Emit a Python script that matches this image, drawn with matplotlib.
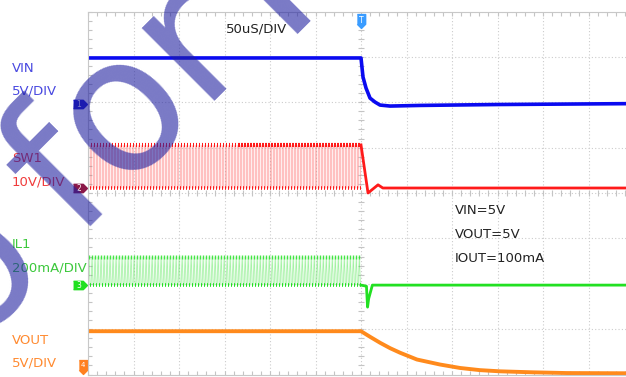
import numpy as np
import matplotlib.pyplot as plt

# scope settings: 50us/div, 12 x 8 divisions, trigger at t = 0
t_min, t_max = -300, 300
vin_scale, sw_scale, il_scale, vout_scale = 5.0, 10.0, 200.0, 5.0
vin_pos, sw_pos, il_pos, vout_pos = 1.96, 0.11, -2.03, -4.04

# VIN (V)
vin_t = [-300, 0, 2.2, 5.5, 9.9, 15.4, 20.9, 32, 65, 150, 300]
vin_v = [5.08, 5.08, 2.98, 1.77, 0.66, 0.22, -0.11, -0.22, -0.15, -0.05, 0.05]

# SW1 (V): switching before the trigger, then collapse
sw_period = 3.3
sw_high, sw_low = 9.5, 0.0
sw_stop_t = [0, 7.7, 18.7, 24, 300]
sw_stop_v = [9.5, -1.1, 0.7, 0.0, 0.0]

# IL1 (mA)
il_peak = 124
il_stop_t = [0, 6.0, 7.2, 8.4, 12.5, 300]
il_stop_v = [0, -5, -97, -60, 0, 0]

# VOUT (V)
vout_t = [-300, 0, 10, 20.9, 32, 42.9, 61.5, 86.8, 108.8, 130.8, 152.7, 189, 226, 300]
vout_v = [4.97, 4.97, 4.35, 3.7, 3.1, 2.6, 1.85, 1.3, 0.92, 0.68, 0.55, 0.44, 0.36, 0.33]

c_vin, c_sw, c_il, c_vout = '#0a0af0', '#ff1a1a', '#22e022', '#ff8a1c'


def to_div(v, scale, pos):
    return np.asarray(v, dtype=float) / scale + pos


fig = plt.figure(figsize=(6.26, 3.77), dpi=100)
ax = fig.add_axes([88 / 626, 1 - 374.5 / 377, 546 / 626, 363 / 377])
ax.set_xlim(t_min, t_max)
ax.set_ylim(-4, 4)

# graticule
ax.set_xticks(np.arange(t_min, t_max + 1, 50))
ax.set_yticks(np.arange(-4, 5, 1))
ax.set_xticks(np.arange(t_min, t_max + 1, 10), minor=True)
ax.set_yticks(np.arange(-4, 4.01, 0.2), minor=True)
ax.tick_params(which='both', direction='in', top=True, right=True,
               labelbottom=False, labelleft=False, color='#c4c4c4', length=3, width=0.8)
ax.grid(True, which='major', ls=(0, (1, 2)), color='#cccccc', lw=0.8)
for s in ax.spines.values():
    s.set_color('#c8c8c8')
    s.set_linewidth(0.8)
ax.vlines(np.arange(t_min, t_max + 1, 10), -0.07, 0.07, color='#c4c4c4', lw=0.8)
ax.hlines(np.arange(-4, 4.01, 0.2), -3.3, 3.3, color='#c4c4c4', lw=0.8)

# VIN
ax.plot(vin_t, to_div(vin_v, vin_scale, vin_pos), color=c_vin, lw=2.6, solid_joinstyle='round')

# SW1 switching edges and dwell levels
starts = np.arange(t_min, 0, sw_period)
hi = to_div(sw_high, sw_scale, sw_pos)
lo = to_div(sw_low, sw_scale, sw_pos)
ax.fill_between([t_min, 0], lo, hi, color=c_sw, alpha=0.07, lw=0)
ax.vlines(starts, lo, hi, color=c_sw, lw=0.5, alpha=0.3)
ax.vlines(starts + 0.5 * sw_period, lo, hi, color=c_sw, lw=0.5, alpha=0.3)
ax.hlines(np.full_like(starts, hi), starts, starts + 0.45 * sw_period, color=c_sw, lw=3)
ax.hlines(np.full_like(starts, lo), starts + 0.5 * sw_period, starts + 0.95 * sw_period, color=c_sw, lw=2.6)
ax.plot(sw_stop_t, to_div(sw_stop_v, sw_scale, sw_pos), color=c_sw, lw=2)

# IL1 triangular pulses
il_top = to_div(il_peak, il_scale, il_pos)
il_zero = to_div(0, il_scale, il_pos)
ax.fill_between([t_min, 0], il_zero, il_top, color=c_il, alpha=0.06, lw=0)
for s in starts:
    ax.plot([s, s + 0.35 * sw_period, s + 0.7 * sw_period], [il_zero, il_top, il_zero],
            color=c_il, lw=0.5, alpha=0.4)
ax.plot(starts + 0.35 * sw_period, np.full_like(starts, il_top), ls='none',
        marker='|', ms=3, mew=1, color=c_il, alpha=0.8)
ax.hlines(np.full_like(starts, il_zero), starts + 0.7 * sw_period, starts + sw_period, color=c_il, lw=2.6)
ax.plot(il_stop_t, to_div(il_stop_v, il_scale, il_pos), color=c_il, lw=2)

# VOUT
ax.plot(vout_t, to_div(vout_v, vout_scale, vout_pos), color=c_vout, lw=2.8)

# channel ground markers
flag = [(-1, 0.6), (0.4, 0.6), (1, 0), (0.4, -0.6), (-1, -0.6)]
trans = ax.get_yaxis_transform()
for num, pos, col in [('1', vin_pos, '#1414c8'), ('2', sw_pos, '#8a1848'), ('3', il_pos, '#20e020')]:
    ax.plot(-0.014, pos, marker=flag, ms=10, color=col, transform=trans, clip_on=False)
    ax.text(-0.017, pos, num, color='white', fontsize=5.5, ha='center', va='center',
            transform=trans, clip_on=False)
down_flag = [(-0.6, 1), (0.6, 1), (0.6, -0.4), (0, -1), (-0.6, -0.4)]
ax.plot(-0.009, -3.83, marker=down_flag, ms=10, color='#ff8020', transform=trans, clip_on=False)
ax.text(-0.009, -3.8, '4', color='white', fontsize=5, ha='center', va='center',
        transform=trans, clip_on=False)
ax.plot(0, 3.78, marker=down_flag, ms=10, color='#3a9cff', clip_on=False)
ax.text(0, 3.8, 'T', color='white', fontsize=5.5, ha='center', va='center', clip_on=False)

# text
fs = 9.5
fig.text(226 / 626, 1 - 29 / 377, '50uS/DIV', fontsize=fs, color='#222222', va='center')
for txt, y in [('VIN=5V', 211), ('VOUT=5V', 234), ('IOUT=100mA', 258)]:
    fig.text(455 / 626, 1 - y / 377, txt, fontsize=fs, color='#222222', va='center')
for txt, y, col in [('VIN', 68, '#4848e0'), ('5V/DIV', 91, '#4848e0'),
                    ('SW1', 158, '#f03c3c'), ('10V/DIV', 182, '#f03c3c'),
                    ('IL1', 244, '#3cc83c'), ('200mA/DIV', 268, '#3cc83c'),
                    ('VOUT', 340, '#ff8a30'), ('5V/DIV', 363, '#ff8a30')]:
    fig.text(12 / 626, 1 - y / 377, txt, fontsize=fs, color=col, va='center')

# watermark
wm = dict(fontsize=135, color='#2020a0', alpha=0.6, rotation=45, rotation_mode='anchor',
          va='baseline', zorder=20)
fig.text(166 / 626, 1 - 146 / 377, 'for', ha='center', **wm)
fig.text(9 / 626, 1 - 303 / 377, 'o', ha='center', **wm)
fig.text(280 / 626, 1 - 34 / 377, 'R', ha='left', **wm)

fig.savefig('out.png', dpi=100)
